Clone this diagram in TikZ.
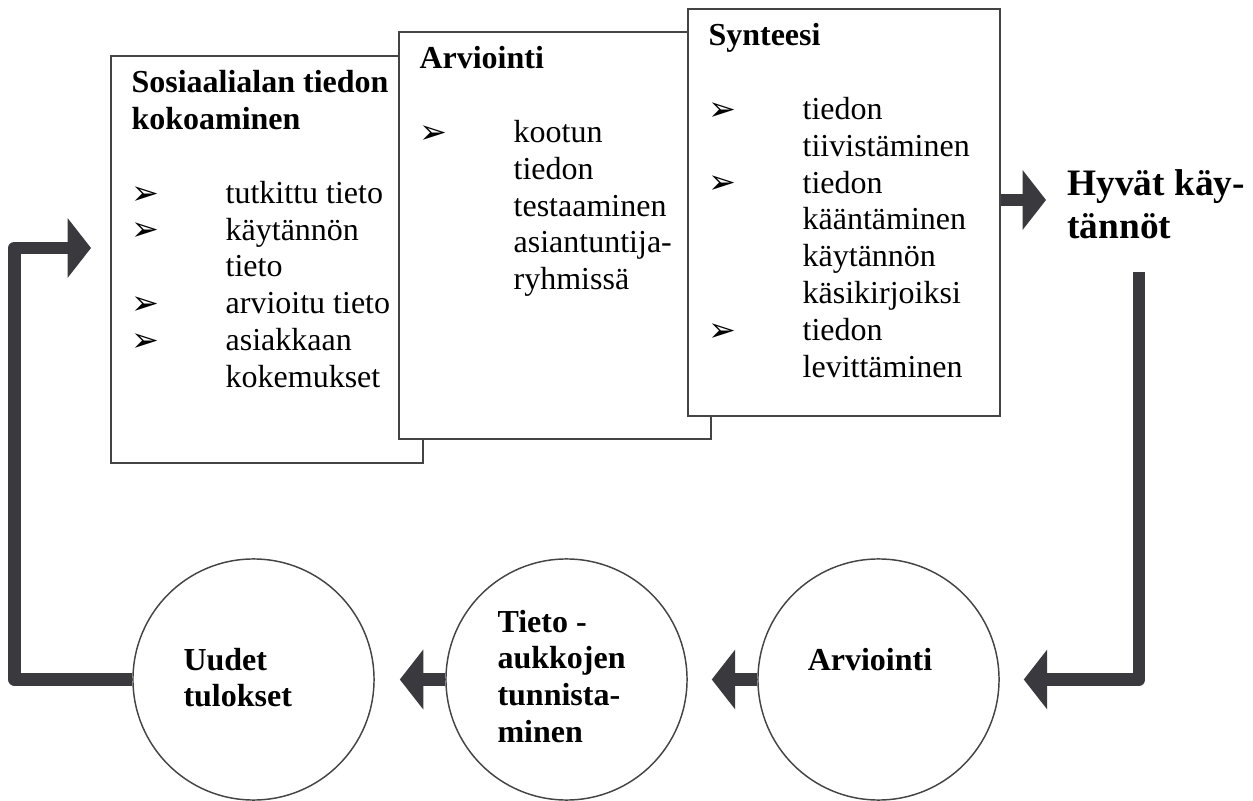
\documentclass[tikz,border=0pt]{standalone}
\usepackage{fontspec}
\setmainfont{Liberation Serif}
\newfontfamily\nuolifont{DejaVu Sans}
\usetikzlibrary{arrows.meta}
\definecolor{nuoliharmaa}{RGB}{58,57,62}
\definecolor{reunaharmaa}{RGB}{68,68,68}
\newcommand{\karki}{{\nuolifont\fontsize{12.5}{10}\selectfont\raisebox{-0.3pt}{➢}}}
\newcommand{\rivit}[1]{\begin{tabular}[t]{@{}p{35.3pt}@{}l@{}}#1\end{tabular}}
\newcommand{\otsikko}[1]{\multicolumn{2}{@{}l@{}}{\textbf{#1}}}
\newcommand{\lihavat}[1]{\begin{tabular}[t]{@{}l@{}}#1\end{tabular}}

\begin{document}
\begin{tikzpicture}[x=0.375pt,y=-0.375pt,
    laatikko/.style={draw=reunaharmaa,line width=0.75pt,fill=white,anchor=north west,
      inner sep=0pt,minimum width=117pt,minimum height=152.6pt},
    ympyra/.style={circle,draw=reunaharmaa,line width=0.55pt,minimum size=90.4pt,inner sep=0pt},
    teksti/.style={anchor=base west,inner sep=0pt,font=\fontsize{12}{13.8}\selectfont},
    nuoli/.style={draw=nuoliharmaa,line width=4.8pt,line join=round,
      -{Triangle[length=8.8pt,width=22.5pt,line width=0pt]}}]
        \useasboundingbox (0,0) rectangle (1253,801);
        % kokoaminen
        \node[laatikko] (kokoaminen) at (110,55) {};
        \node[teksti] (kokoaminen-t) at ([shift={(21,38)}]kokoaminen.north west)
          {\rivit{\otsikko{Sosiaalialan tiedon}\\ \otsikko{kokoaminen}\\ \\
            \karki & tutkittu tieto\\ \karki & käytännön\\ & tieto\\
            \karki & arvioitu tieto\\ \karki & asiakkaan\\ & kokemukset}};
        % arviointi
        \node[laatikko] (arviointi) at (398,31) {};
        \node[teksti] (arviointi-t) at ([shift={(21,38)}]arviointi.north west)
          {\rivit{\otsikko{Arviointi}\\ \\
            \karki & kootun\\ & tiedon\\ & testaaminen\\ & asiantuntija-\\ & ryhmissä}};
        % synteesi
        \node[laatikko] (synteesi) at (687,8) {};
        \node[teksti] (synteesi-t) at ([shift={(21,38)}]synteesi.north west)
          {\rivit{\otsikko{Synteesi}\\ \\
            \karki & tiedon\\ & tiivistäminen\\ \karki & tiedon\\ & kääntäminen\\
            & käytännön\\ & käsikirjoiksi\\ \karki & tiedon\\ & levittäminen}};
        % hyvat kaytannot
        \coordinate (hyvat-k) at (1046,200);
        \draw[nuoli] (synteesi.east |- hyvat-k) -- (hyvat-k);
        \node[teksti,font=\fontsize{14}{16.1}\selectfont\bfseries] (hyvat) at (1067,196)
          {\lihavat{Hyvät käy-\\tännöt}};
        % ympyrat
        \node[ympyra] (arv) at (878.5,679.5) {};
        \node[teksti,anchor=base,font=\fontsize{12}{13.8}\selectfont\bfseries] (arv-t) at (870,671) {Arviointi};
        \node[ympyra] (aukot) at (566.5,679.5) {};
        \node[teksti,font=\fontsize{12}{13.8}\selectfont\bfseries] (aukot-t) at (497,632)
          {\lihavat{Tieto -\\aukkojen\\tunnista-\\minen}};
        \node[ympyra] (tulokset) at (253.5,679.5) {};
        \node[teksti,font=\fontsize{12}{13.8}\selectfont\bfseries] (tulokset-t) at (183,670)
          {\lihavat{Uudet\\tulokset}};
        % paluu
        \coordinate (pysty) at (1139,272);
        \draw[nuoli,shorten >=9pt] (pysty) |- (arv.east);
        \draw[nuoli,shorten >=9pt] (arv.west) -- (aukot.east);
        \draw[nuoli,shorten >=9.4pt] (aukot.west) -- (tulokset.east);
        \coordinate (kulma) at (14.5,248);
        \coordinate (paluu) at (91,248);
        \draw[nuoli] (tulokset.west) -| (kulma) -- (paluu);
\end{tikzpicture}
\end{document}
